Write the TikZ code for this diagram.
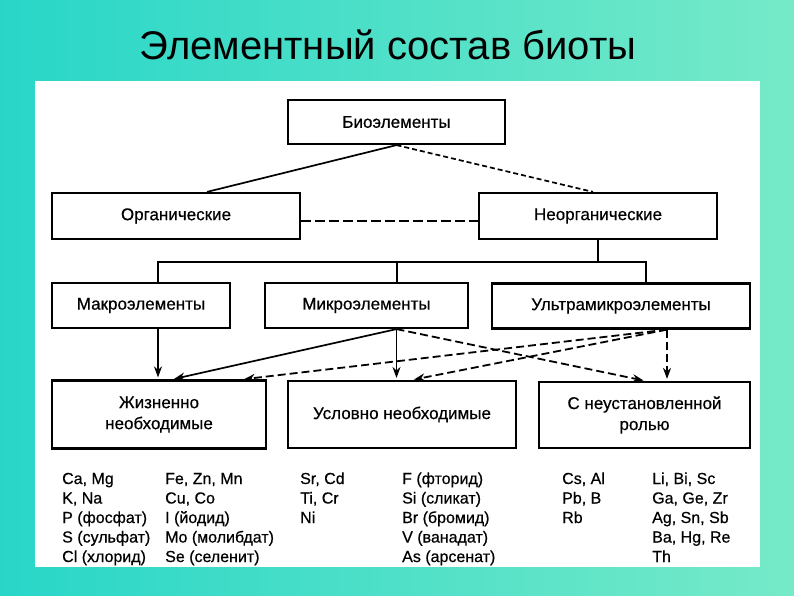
\documentclass[tikz,border=0pt]{standalone}
\usepackage{fontspec}
\setmainfont{Liberation Sans}
\newfontfamily\scanfont[FakeBold=0.5]{Liberation Sans}
\usetikzlibrary{arrows.meta}

\definecolor{tealL}{RGB}{40,214,200}
\definecolor{tealR}{RGB}{118,234,200}

\begin{document}
\begin{tikzpicture}[x=1pt, y=-1pt,
  box/.style={draw, line width=2.2pt, fill=white, minimum height=45pt, inner sep=0pt,
    font=\scanfont\fontsize{17}{21}\selectfont, align=center},
  link/.style={line width=1.7pt},
  dlink/.style={line width=1.8pt, dash pattern=on 8pt off 4pt},
  arr/.style={-{Stealth[length=11pt, width=8pt]}, shorten >=2pt},
  item/.style={anchor=base west, inner sep=0pt, font=\scanfont\fontsize{16}{19}\selectfont}]

\useasboundingbox (0,0) rectangle (794,595);
\shade[left color=tealL, right color=tealR] (0,0) rectangle (794,595);
\fill[white] (35,81) rectangle (760,567);

\node[anchor=base, font=\fontsize{40}{48}\selectfont] (title) at (388,59) {Элементный состав биоты};

\node[box, minimum width=217pt, minimum height=44pt] (bio) at (396.5,122) {Биоэлементы};
\node[box, minimum width=248pt, minimum height=46pt] (org) at (176,216) {Органические};
\node[box, minimum width=238pt, minimum height=46pt] (inorg) at (598,216) {Неорганические};

\node[box, minimum width=178pt] (macro) at (141,305.5) {Макроэлементы};
\node[box, minimum width=203pt] (micro) at (366.5,305.5) {Микроэлементы};
\node[box, minimum width=258pt] (ultra) at (621,306) {Ультрамикроэлементы};

\node[box, minimum width=214pt, minimum height=68pt] (vital) at (159,414.5) {Жизненно\\необходимые};
\node[box, minimum width=228pt, minimum height=67pt] (cond) at (402,414.5) {Условно необходимые};
\node[box, minimum width=211pt, minimum height=66pt] (unk) at (644.5,415) {С неустановленной\\ролью};

\draw[link] (bio.south) -- ([xshift=31pt]org.north);
\draw[link, dash pattern=on 5pt off 3pt] (bio.south) -- ([xshift=-5pt]inorg.north);
\draw[line width=2.4pt, dash pattern=on 10pt off 4pt] ([yshift=-5pt]org.east) -- ([yshift=-5pt]inorg.west);

\coordinate (busl) at (158,262);
\coordinate (busr) at (646,262);
\draw[link] (inorg.south) -- (inorg.south |- busl);
\draw[link] (busl |- macro.north) -- (busl) -- (busr) -- (busr |- ultra.north);
\draw[link] ([xshift=30.5pt]micro.north) -- ([xshift=30.5pt]micro.north |- busl);

\coordinate (mk) at ([xshift=30pt]micro.south);
\coordinate (uk) at ([xshift=46pt]ultra.south);
\draw[link, arr] ([xshift=17pt]macro.south) -- ([xshift=17pt]macro.south |- vital.north);
\draw[link, arr] (mk) -- ([xshift=13pt]vital.north);
\draw[link, arr] (mk) -- (mk |- cond.north);
\draw[dlink, arr] (mk) -- ([xshift=1pt]unk.north);
\draw[dlink, arr] (uk) -- ([xshift=83pt]vital.north);
\draw[dlink, arr] (uk) -- ([xshift=10pt]cond.north);
\draw[dlink, arr] (uk) -- (uk |- unk.north);

% element lists
\def\x{62}
\def\y{484}
\node[item] (ca) at (\x + 0, \y + 0) {Ca, Mg};
\node[item] (k) at (\x + 0, \y + 19.5) {K, Na};
\node[item] (p) at (\x + 0, \y + 39) {P (фосфат)};
\node[item] (s) at (\x + 0, \y + 58.5) {S (сульфат)};
\node[item] (cl) at (\x + 0, \y + 78) {Cl (хлорид)};

\node[item] (fe) at (\x + 103, \y + 0) {Fe, Zn, Mn};
\node[item] (cu) at (\x + 103, \y + 19.5) {Cu, Co};
\node[item] (i) at (\x + 103, \y + 39) {I (йодид)};
\node[item] (mo) at (\x + 103, \y + 58.5) {Mo (молибдат)};
\node[item] (se) at (\x + 103, \y + 78) {Se (селенит)};

\node[item] (sr) at (\x + 238, \y + 0) {Sr, Cd};
\node[item] (ti) at (\x + 238, \y + 19.5) {Ti, Cr};
\node[item] (ni) at (\x + 238, \y + 39) {Ni};

\node[item] (f) at (\x + 340, \y + 0) {F (фторид)};
\node[item] (si) at (\x + 340, \y + 19.5) {Si (сликат)};
\node[item] (br) at (\x + 340, \y + 39) {Br (бромид)};
\node[item] (v) at (\x + 340, \y + 58.5) {V (ванадат)};
\node[item] (as) at (\x + 340, \y + 78) {As (арсенат)};

\node[item] (cs) at (\x + 500, \y + 0) {Cs, Al};
\node[item] (pb) at (\x + 500, \y + 19.5) {Pb, B};
\node[item] (rb) at (\x + 500, \y + 39) {Rb};

\node[item] (li) at (\x + 590, \y + 0) {Li, Bi, Sc};
\node[item] (ga) at (\x + 590, \y + 19.5) {Ga, Ge, Zr};
\node[item] (ag) at (\x + 590, \y + 39) {Ag, Sn, Sb};
\node[item] (ba) at (\x + 590, \y + 58.5) {Ba, Hg, Re};
\node[item] (th) at (\x + 590, \y + 78) {Th};

\end{tikzpicture}
\end{document}
